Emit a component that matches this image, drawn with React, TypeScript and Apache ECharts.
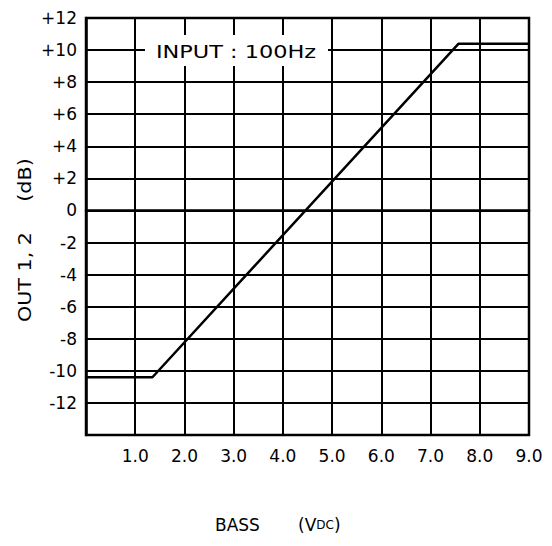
import React, { useEffect, useRef } from "react";
import * as echarts from "echarts";

const curveX = [0, 1.35, 7.57, 9.0];
const curveY = [-10.4, -10.4, 10.4, 10.4];
const xTicks = [1, 2, 3, 4, 5, 6, 7, 8, 9];
const yMin = -14;
const yMax = 12;
const annotation = "INPUT : 100Hz";
const xTitle = "BASS";
const xUnit = "(V{s|DC})";
const yTitle = "OUT 1, 2";
const yUnit = "(dB)";

const FONT = "'DejaVu Sans', 'Liberation Sans', Arial, sans-serif";

export default function App() {
  const ref = useRef<HTMLDivElement>(null);
  useEffect(() => {
    if (!ref.current) return;
    const chart = echarts.init(ref.current, null, { renderer: "svg" });
    const gridLeft = 86, gridTop = 18, gridW = 443, gridH = 417;
    chart.setOption({
      animation: false,
      backgroundColor: "#fff",
      grid: {
        left: gridLeft,
        top: gridTop,
        width: gridW,
        height: gridH,
        show: true,
        borderColor: "#000",
        borderWidth: 2.5,
      },
      xAxis: {
        type: "value",
        min: 0,
        max: 9,
        interval: 1,
        axisLine: { show: true, lineStyle: { color: "#000", width: 2.5 } },
        axisTick: { show: false },
        splitLine: { show: true, lineStyle: { color: "#000", width: 2 } },
        axisLabel: {
          color: "#000",
          fontFamily: FONT,
          fontSize: 17,
          margin: 12,
          formatter: (v: number) => (xTicks.includes(v) ? v.toFixed(1) : ""),
        },
      },
      yAxis: {
        type: "value",
        min: yMin,
        max: yMax,
        interval: 2,
        axisLine: { show: true, lineStyle: { color: "#000", width: 2.5 } },
        axisTick: { show: false },
        splitLine: { show: true, lineStyle: { color: "#000", width: 2 } },
        axisLabel: {
          color: "#000",
          fontFamily: FONT,
          fontSize: 17,
          margin: 9,
          formatter: (v: number) => (v === yMin ? "" : v > 0 ? "+" + v : String(v)),
        },
      },
      series: [
        {
          type: "line",
          data: curveX.map((x, i) => [x, curveY[i]]),
          symbol: "none",
          lineStyle: { color: "#000", width: 2.5 },
          z: 5,
        },
      ],
      graphic: [
        {
          type: "rect",
          shape: { x: 145, y: 35, width: 183, height: 31 },
          style: { fill: "#fff" },
          z: 100,
        },
        {
          type: "text",
          x: 236,
          y: 52,
          scaleX: 1.32,
          style: {
            text: annotation,
            fill: "#000",
            font: `17px ${FONT}`,
            textAlign: "center",
            textVerticalAlign: "middle",
          },
          z: 101,
        },
        {
          type: "text",
          x: 215,
          y: 525,
          style: {
            text: xTitle,
            fill: "#000",
            font: `17px ${FONT}`,
            textAlign: "left",
            textVerticalAlign: "middle",
          },
          z: 101,
        },
        {
          type: "text",
          x: 298,
          y: 525,
          style: {
            text: xUnit,
            fill: "#000",
            font: `17px ${FONT}`,
            textAlign: "left",
            textVerticalAlign: "middle",
            rich: { s: { fontSize: 12, fontFamily: FONT, fill: "#000" } },
          },
          z: 101,
        },
        {
          type: "text",
          x: 25,
          y: 277,
          rotation: Math.PI / 2,
          scaleX: 1.15,
          style: {
            text: yTitle,
            fill: "#000",
            font: `18px ${FONT}`,
            textAlign: "center",
            textVerticalAlign: "middle",
          },
          z: 101,
        },
        {
          type: "text",
          x: 25,
          y: 180,
          rotation: Math.PI / 2,
          scaleX: 1.15,
          style: {
            text: yUnit,
            fill: "#000",
            font: `18px ${FONT}`,
            textAlign: "center",
            textVerticalAlign: "middle",
          },
          z: 101,
        },
      ],
    });
    return () => chart.dispose();
  }, []);
  return (
    <div
      ref={ref}
      style={{ position: "absolute", left: 0, top: 0, width: 552, height: 546 }}
    />
  );
}
